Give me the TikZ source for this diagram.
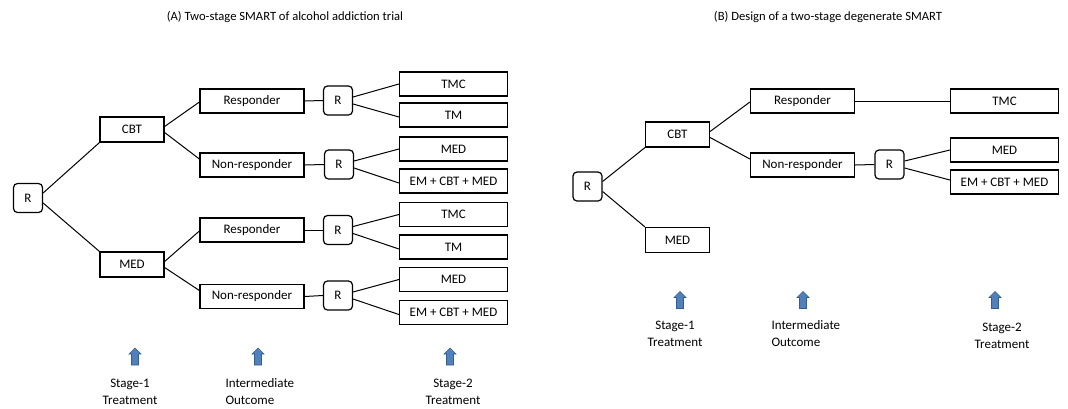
\documentclass[tikz,border=0pt]{standalone}
\usepackage{fontspec}
\setmainfont{Carlito}
\usetikzlibrary{calc}
\definecolor{arrfill}{RGB}{79,129,189}
\definecolor{arrline}{RGB}{56,93,138}
\begin{document}
\begin{tikzpicture}[x=1pt,y=-1pt,
  base/.style={draw, line width=1.2pt, inner sep=0pt, font=\fontsize{13}{15}\selectfont},
  rbox/.style={base, rounded corners=4pt, minimum width=29pt, minimum height=29pt},
  tbox/.style={base, minimum width=64pt, minimum height=25pt},
  obox/.style={base, minimum width=104pt, minimum height=24pt},
  sbox/.style={base, minimum width=108pt, minimum height=24pt},
  conn/.style={line width=1pt},
  uparrow/.pic={\filldraw[draw=arrline, fill=arrfill, line width=0.6pt]
     (-3.5,8.5) -- (-3.5,-2.5) -- (-6,-2.5) -- (0,-8.5) -- (6,-2.5) -- (3.5,-2.5) -- (3.5,8.5) -- cycle;},
  lab/.style={font=\fontsize{13}{17}\selectfont, align=center},
  labl/.style={font=\fontsize{13}{17}\selectfont, align=left},
  ttl/.style={font=\fontsize{12.6}{14}\selectfont}]
\useasboundingbox (0,0) rectangle (1068,408);

% ---------- Panel A ----------
\node[ttl] (ta) at (285,17) {(A) Two-stage SMART of alcohol addiction trial};
\node[rbox] (r0) at (28,198) {R};
\node[tbox] (cbtA) at (132,129.5) {CBT};
\node[tbox] (medA) at (132,264.5) {MED};
\node[obox] (resA1) at (252,101) {Responder};
\node[obox] (nonA1) at (252,165) {Non-responder};
\node[obox] (resA2) at (252,230) {Responder};
\node[obox] (nonA2) at (252,296.5) {Non-responder};
\node[rbox] (rA1) at (338,100.5) {R};
\node[rbox] (rA2) at (339,164.5) {R};
\node[rbox] (rA3) at (338,230) {R};
\node[rbox] (rA4) at (338,295.5) {R};
\node[sbox] (tmcA1) at (453.5,84) {TMC};
\node[sbox] (tmA1) at (453.5,115) {TM};
\node[sbox] (medA1) at (453.5,149) {MED};
\node[sbox] (emA1) at (453.5,181) {EM + CBT + MED};
\node[sbox] (tmcA2) at (453.5,214.5) {TMC};
\node[sbox] (tmA2) at (453.5,247) {TM};
\node[sbox] (medA2) at (453.5,279.5) {MED};
\node[sbox] (emA2) at (453.5,312.5) {EM + CBT + MED};

\draw[conn] ($(r0.east)+(0,-5)$) -- (cbtA.south west);
\draw[conn] ($(r0.east)+(0,5)$) -- (medA.north west);
\draw[conn] ($(cbtA.east)+(0,-3)$) -- ($(resA1.west)+(0,1)$);
\draw[conn] ($(cbtA.east)+(0,3)$) -- ($(nonA1.west)+(0,-6)$);
\draw[conn] ($(medA.east)+(0,-3)$) -- ($(resA2.west)+(0,1)$);
\draw[conn] ($(medA.east)+(0,3)$) -- ($(nonA2.west)+(0,-6)$);
\draw[conn] (resA1.east) -- (rA1.west);
\draw[conn] (nonA1.east) -- (rA2.west);
\draw[conn] (resA2.east) -- (rA3.west);
\draw[conn] (nonA2.east) -- (rA4.west);
\foreach \r/\a/\b in {rA1/tmcA1/tmA1, rA2/medA1/emA1, rA3/tmcA2/tmA2, rA4/medA2/emA2}{
  \draw[conn] ($(\r.east)+(0,-3.5)$) -- (\a.west);
  \draw[conn] ($(\r.east)+(0,3.5)$) -- ($(\b.west)+(0,2)$);
}

\pic at (135,356.5) {uparrow};
\pic at (258,356.5) {uparrow};
\pic at (450,356.5) {uparrow};
\node[lab] (lA1) at (130,391.5) {Stage-1\\Treatment};
\node[labl, anchor=west] (lA2) at (222,391.5) {Intermediate\\Outcome};
\node[lab] (lA3) at (453,391.5) {Stage-2\\Treatment};

% ---------- Panel B ----------
\node[ttl] (tb) at (828,17) {(B) Design of a two-stage degenerate SMART};
\node[rbox] (r0B) at (587.5,186.5) {R};
\node[tbox] (cbtB) at (677.5,134.5) {CBT};
\node[tbox] (medB) at (677.5,240) {MED};
\node[obox] (resB) at (802.5,101) {Responder};
\node[obox] (nonB) at (802.5,165) {Non-responder};
\node[rbox] (rB) at (889.5,164.5) {R};
\node[sbox] (tmcB) at (1004.5,101) {TMC};
\node[sbox] (medB2) at (1004.5,150) {MED};
\node[sbox] (emB) at (1004.5,182) {EM + CBT + MED};

\draw[conn] ($(r0B.east)+(0,-5)$) -- (cbtB.south west);
\draw[conn] ($(r0B.east)+(0,5)$) -- (medB.north west);
\draw[conn] ($(cbtB.east)+(0,-3)$) -- ($(resB.west)+(0,1)$);
\draw[conn] ($(cbtB.east)+(0,3)$) -- ($(nonB.west)+(0,-6)$);
\draw[conn] (resB.east) -- (tmcB.west);
\draw[conn] (nonB.east) -- (rB.west);
\draw[conn] ($(rB.east)+(0,-3.5)$) -- (medB2.west);
\draw[conn] ($(rB.east)+(0,3.5)$) -- ($(emB.west)+(0,-2)$);

\pic at (680,300) {uparrow};
\pic at (803,300) {uparrow};
\pic at (995,300) {uparrow};
\node[lab] (lB1) at (675,333.5) {Stage-1\\Treatment};
\node[labl, anchor=west] (lB2) at (768,333.5) {Intermediate\\Outcome};
\node[lab] (lB3) at (1002,335.5) {Stage-2\\Treatment};
\end{tikzpicture}
\end{document}
